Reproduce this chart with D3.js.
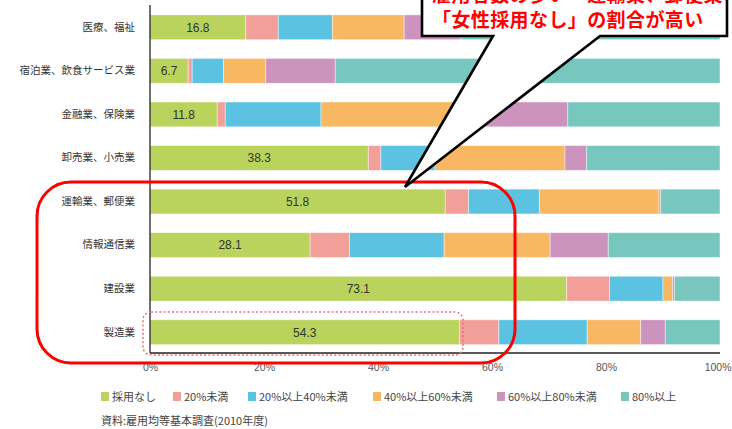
<!DOCTYPE html>
<html>
<head>
<meta charset="utf-8">
<script src="https://cdn.jsdelivr.net/npm/d3@7"></script>
<style>
  html, body { margin: 0; padding: 0; background: #fff; }
  svg { display: block; }
  text { font-family: "Noto Sans CJK JP", "Noto Sans", sans-serif; }
</style>
</head>
<body>
<svg id="chart" width="732" height="429"></svg>
<script>
// ---- data ----
const categories = ["医療、福祉", "宿泊業、飲食サービス業", "金融業、保険業", "卸売業、小売業",
                    "運輸業、郵便業", "情報通信業", "建設業", "製造業"];
const seriesNames = ["採用なし", "20%未満", "20%以上40%未満", "40%以上60%未満", "60%以上80%未満", "80%以上"];
const noHire   = [16.8, 6.7, 11.8, 38.3, 51.8, 28.1, 73.1, 54.3];
const under20  = [5.7, 0.7, 1.4, 2.2, 4.1, 6.9, 7.5, 6.9];
const p20to40  = [9.5, 5.5, 16.8, 9.5, 12.4, 16.6, 9.4, 15.5];
const p40to60  = [12.6, 7.4, 27.0, 22.8, 21.0, 18.6, 1.7, 9.4];
const p60to80  = [10.0, 12.2, 16.3, 3.8, 0.3, 10.2, 0.3, 4.3];
const over80   = [45.4, 67.5, 26.7, 23.4, 10.4, 19.6, 8.0, 9.6];
const tickValues = [0, 20, 40, 60, 80, 100];
const tickLabels = ["0%", "20%", "40%", "60%", "80%", "100%"];
const colors = ["#b9d35c", "#f19f98", "#5bc2e2", "#f8b863", "#cd93bf", "#78c7be"];
const source = "資料:雇用均等基本調査(2010年度)";
const calloutLine1 = "雇用者数の多い・運輸業、郵便業、製造業で";
const calloutLine2 = "「女性採用なし」の割合が高い";

const seriesArrays = [noHire, under20, p20to40, p40to60, p60to80, over80];
const rows = categories.map((c, i) => {
  const r = { cat: c };
  seriesNames.forEach((s, j) => r[s] = seriesArrays[j][i]);
  return r;
});
const stacked = d3.stack().keys(seriesNames)(rows);

const svg = d3.select("#chart");
const x = d3.scaleLinear().domain([0, 100]).range([150, 720]);
const y = d3.scaleBand().domain(categories).range([5.5, 354]).paddingInner(0.43).paddingOuter(0.215);
const color = d3.scaleOrdinal().domain(seriesNames).range(colors);

// bars
const g = svg.append("g");
g.selectAll("g.series").data(stacked).join("g")
  .attr("fill", d => color(d.key))
  .selectAll("rect").data(d => d).join("rect")
  .attr("x", d => x(d[0]))
  .attr("y", d => y(d.data.cat))
  .attr("width", d => Math.max(0, x(d[1]) - x(d[0])))
  .attr("height", y.bandwidth())
  .attr("stroke", "rgba(255,255,255,0.55)")
  .attr("stroke-width", 0.8);

// value labels in first segment
g.selectAll("text.val").data(stacked[0]).join("text")
  .attr("x", d => (x(d[0]) + x(d[1])) / 2)
  .attr("y", d => y(d.data.cat) + y.bandwidth() / 2)
  .attr("dy", "0.36em")
  .attr("text-anchor", "middle")
  .style("font-family", "'Liberation Sans', Arial, sans-serif")
  .style("font-size", "12px")
  .attr("fill", "#333")
  .text(d => d.data[seriesNames[0]].toFixed(1));

// category labels
const yAxis = d3.axisLeft(y).tickSize(0).tickPadding(15);
const ya = svg.append("g").attr("transform", "translate(150,0)").call(yAxis);
ya.select(".domain").remove();
ya.selectAll("text")
  .style("font-family", "'Noto Sans CJK JP', sans-serif")
  .style("font-size", "10.5px")
  .attr("fill", "#333");

// axis lines
svg.append("line").attr("x1", 150).attr("x2", 150).attr("y1", 5).attr("y2", 353)
  .attr("stroke", "#222").attr("stroke-width", 1.3);
svg.append("line").attr("x1", 150).attr("x2", 720).attr("y1", 353).attr("y2", 353)
  .attr("stroke", "#222").attr("stroke-width", 1.3);

// x tick labels
const xAxis = d3.axisBottom(x).tickValues(tickValues).tickSize(0).tickPadding(11)
  .tickFormat((d, i) => tickLabels[i]);
const xa = svg.append("g").attr("transform", "translate(0,353)").call(xAxis);
xa.select(".domain").remove();
xa.selectAll("text")
  .style("font-family", "'Liberation Sans', Arial, sans-serif")
  .style("font-size", "10.5px")
  .attr("fill", "#555");
xa.selectAll(".tick").filter(d => d === 100).select("text")
  .attr("text-anchor", "end").attr("x", 11);

// legend
const legendX = [101, 173, 248, 373, 497, 621];
const lg = svg.append("g");
seriesNames.forEach((s, i) => {
  lg.append("rect").attr("x", legendX[i]).attr("y", 392).attr("width", 8).attr("height", 9)
    .attr("fill", colors[i]);
  lg.append("text").attr("x", legendX[i] + 11).attr("y", 397).attr("dy", "0.36em")
    .style("font-size", "11px").attr("fill", "#444").text(s);
});

// source
svg.append("text").attr("x", 101).attr("y", 421).attr("dy", "0.36em")
  .style("font-size", "11px").attr("fill", "#444").text(source);

// dotted highlight around 製造業 bar
svg.append("rect").attr("x", 143).attr("y", 312).attr("width", 320).attr("height", 43)
  .attr("rx", 8).attr("fill", "none").attr("stroke", "#e8707a")
  .attr("stroke-width", 1.5).attr("stroke-dasharray", "2,2.2");

// red rounded frame
svg.append("rect").attr("x", 37).attr("y", 182).attr("width", 478).attr("height", 181)
  .attr("rx", 34).attr("fill", "none").attr("stroke", "#ff0000").attr("stroke-width", 3);

// callout
svg.append("defs").append("clipPath").attr("id", "boxclip")
  .append("rect").attr("x", 424).attr("y", -20).attr("width", 302).attr("height", 55);
svg.append("path")
  .attr("d", "M422,-10 L727,-10 L727,36 L600,36 L405,187 L493,36 L422,36 Z")
  .attr("fill", "#fff").attr("stroke", "#000").attr("stroke-width", 2.6)
  .attr("stroke-linejoin", "miter");
const ct = svg.append("g").attr("clip-path", "url(#boxclip)");
ct.append("text").attr("x", 432).attr("y", 2)
  .style("font-size", "19px").style("font-weight", "bold").style("letter-spacing", "0.4px")
  .attr("fill", "#ff0000").text(calloutLine1);
ct.append("text").attr("x", 432).attr("y", 27)
  .style("font-size", "19px").style("font-weight", "bold").style("letter-spacing", "0.4px")
  .attr("fill", "#ff0000").text(calloutLine2);
</script>
</body>
</html>
